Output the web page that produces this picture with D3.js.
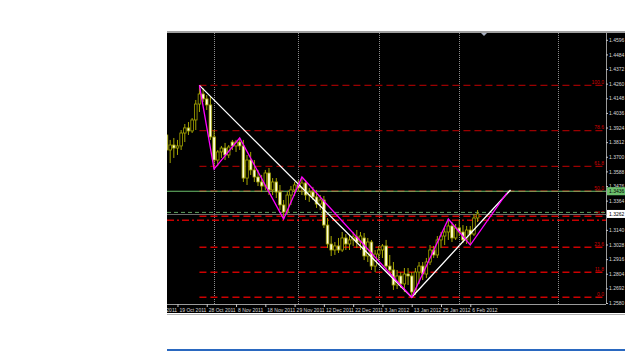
<!DOCTYPE html>
<html>
<head>
    <meta charset="utf-8">
    <title>EURUSD daily - fibonacci</title>
    <script src="https://d3js.org/d3.v7.min.js"></script>
</head>
<style>
    body {
        margin: 0;
        background: #fff;
    }
    text {
        font-family: "Liberation Sans", Arial, sans-serif;
    }
</style>
<body>
    <svg class="chart" width="625" height="351"></svg>

<script>
    //daily bars, index 0 = first visible bar on the left
    var opens = [1.3867, 1.3752, 1.3790, 1.3767, 1.3783, 1.3882, 1.3921, 1.3898, 1.3982, 1.4104,
        1.4181, 1.4143, 1.4097, 1.3852, 1.3675, 1.3737, 1.3767, 1.3714, 1.3813, 1.3783,
        1.3813, 1.3783, 1.3537, 1.3675, 1.3599, 1.3545, 1.3507, 1.3476, 1.3576, 1.3446,
        1.3507, 1.3430, 1.3331, 1.3277, 1.3407, 1.3446, 1.3484, 1.3461, 1.3499, 1.3407,
        1.3430, 1.3392, 1.3338, 1.3369, 1.3177, 1.3032, 1.2986, 1.3017, 1.2986, 1.3078,
        1.3032, 1.3063, 1.3086, 1.3047, 1.3078, 1.2940, 1.3047, 1.2863, 1.2955, 1.2986,
        1.3017, 1.2863, 1.2833, 1.2718, 1.2787, 1.2726, 1.2802, 1.2787, 1.2664, 1.2817,
        1.2863, 1.2802, 1.2894, 1.2986, 1.2948, 1.3063, 1.3093, 1.3124, 1.3170, 1.3078,
        1.3155, 1.3124, 1.3063, 1.3139, 1.3108, 1.3231];
    var highs = [1.3944, 1.3829, 1.3844, 1.3829, 1.3905, 1.3951, 1.3966, 1.3997, 1.4135, 1.4247,
        1.4227, 1.4173, 1.4166, 1.3905, 1.3752, 1.3783, 1.3806, 1.3790, 1.3829, 1.3829,
        1.3844, 1.3829, 1.3714, 1.3737, 1.3675, 1.3599, 1.3561, 1.3599, 1.3614, 1.3537,
        1.3537, 1.3484, 1.3369, 1.3430, 1.3476, 1.3507, 1.3522, 1.3545, 1.3522, 1.3461,
        1.3469, 1.3446, 1.3407, 1.3400, 1.3231, 1.3093, 1.3047, 1.3078, 1.3124, 1.3108,
        1.3101, 1.3124, 1.3139, 1.3124, 1.3116, 1.3078, 1.3063, 1.2986, 1.3017, 1.3032,
        1.3063, 1.2948, 1.2894, 1.2833, 1.2817, 1.2848, 1.2848, 1.2817, 1.2848, 1.2894,
        1.2894, 1.2925, 1.3024, 1.3017, 1.3093, 1.3124, 1.3155, 1.3223, 1.3200, 1.3185,
        1.3216, 1.3177, 1.3170, 1.3170, 1.3262, 1.3292];
    var lows = [1.3737, 1.3652, 1.3691, 1.3714, 1.3752, 1.3813, 1.3867, 1.3882, 1.3905, 1.4043,
        1.4120, 1.4058, 1.3829, 1.3606, 1.3629, 1.3691, 1.3675, 1.3691, 1.3752, 1.3737,
        1.3752, 1.3507, 1.3484, 1.3561, 1.3507, 1.3476, 1.3430, 1.3446, 1.3407, 1.3407,
        1.3384, 1.3292, 1.3223, 1.3262, 1.3331, 1.3400, 1.3430, 1.3407, 1.3369, 1.3354,
        1.3369, 1.3308, 1.3292, 1.3155, 1.3001, 1.2940, 1.2948, 1.2963, 1.2971, 1.2986,
        1.2986, 1.3017, 1.3001, 1.2986, 1.2909, 1.2894, 1.2833, 1.2817, 1.2909, 1.2925,
        1.2833, 1.2787, 1.2680, 1.2687, 1.2695, 1.2664, 1.2718, 1.2624, 1.2641, 1.2726,
        1.2756, 1.2771, 1.2871, 1.2925, 1.2925, 1.3001, 1.3024, 1.3063, 1.3047, 1.3063,
        1.3093, 1.3040, 1.3032, 1.3024, 1.3093, 1.3200];
    var closes = [1.3752, 1.3790, 1.3767, 1.3783, 1.3882, 1.3921, 1.3898, 1.3982, 1.4104, 1.4181,
        1.4143, 1.4097, 1.3852, 1.3675, 1.3737, 1.3767, 1.3714, 1.3775, 1.3783, 1.3813,
        1.3783, 1.3537, 1.3675, 1.3599, 1.3545, 1.3507, 1.3476, 1.3576, 1.3446, 1.3507,
        1.3430, 1.3331, 1.3277, 1.3407, 1.3446, 1.3484, 1.3461, 1.3499, 1.3407, 1.3430,
        1.3392, 1.3338, 1.3369, 1.3177, 1.3032, 1.2986, 1.3017, 1.2986, 1.3078, 1.3032,
        1.3063, 1.3086, 1.3047, 1.3093, 1.2940, 1.3047, 1.2863, 1.2955, 1.2986, 1.3017,
        1.2863, 1.2833, 1.2718, 1.2787, 1.2726, 1.2802, 1.2787, 1.2664, 1.2817, 1.2863,
        1.2802, 1.2894, 1.2986, 1.2948, 1.3063, 1.3093, 1.3124, 1.3170, 1.3078, 1.3155,
        1.3124, 1.3063, 1.3139, 1.3108, 1.3231, 1.3262];

    //time axis labels and the bar they sit on
    var dateLabels = ["10 Oct 2011", "19 Oct 2011", "28 Oct 2011", "8 Nov 2011", "18 Nov 2011", "29 Nov 2011",
        "12 Dec 2011", "22 Dec 2011", "3 Jan 2012", "13 Jan 2012", "25 Jan 2012", "6 Feb 2012"];
    var dateLabelBars = [-5, 3, 11, 19, 27, 35, 43, 51, 59, 67, 75, 83];
    var gridBars = [13, 36, 58, 80, 107];

    //price scale labels
    var priceTicks = [1.2580, 1.2692, 1.2804, 1.2916, 1.3028, 1.3140, 1.3252, 1.3364, 1.3476, 1.3588,
        1.3700, 1.3812, 1.3924, 1.4036, 1.4148, 1.4260, 1.4372, 1.4484, 1.4596];

    //fibonacci retracement
    var fibLevels = [100, 78.6, 61.8, 50, 38.2, 23.6, 11.8, 0];
    var fibHigh = 1.4247;
    var fibLow = 1.2624;
    var fibStartBar = 9;

    //white trend lines and magenta zigzag
    var trendBars = [9, 67, 94];
    var trendPrices = [1.4247, 1.2624, 1.3446];
    var zigzagBars = [9, 13, 20, 32, 37, 67, 77, 83, 93];
    var zigzagPrices = [1.4247, 1.3606, 1.3844, 1.3223, 1.3545, 1.2624, 1.3223, 1.3024, 1.3423];

    //horizontal lines
    var greenLinePrice = 1.3436;
    var greenDashPrice = 1.3274;
    var redDashDotPrice = 1.3214;

    //set up chart
    var plotLeft = 167,
        plotRight = 606,
        plotTop = 33,
        plotBottom = 304;

    var svg = d3.select(".chart");

    var x = d3.scaleLinear()
        .domain([0, 100])
        .range([166.5, 166.5 + 366]);

    var y = d3.scaleLinear()
        .domain([1.2580, 1.4596])
        .range([303, 39.8]);

    var fmt = d3.format(".4f");

    //frame
    svg.append("rect").attr("x", 0).attr("y", 0).attr("width", 625).attr("height", 351).attr("fill", "#fff");
    svg.append("rect").attr("x", plotLeft).attr("y", 31).attr("width", 625 - plotLeft).attr("height", 2).attr("fill", "#a0a0a0");
    svg.append("rect").attr("x", plotLeft).attr("y", plotTop).attr("width", 625 - plotLeft).attr("height", 280).attr("fill", "#000");
    svg.append("rect").attr("x", plotLeft).attr("y", 314).attr("width", 625 - plotLeft).attr("height", 1).attr("fill", "#b0b0b0");
    svg.append("rect").attr("x", plotLeft).attr("y", 349).attr("width", 625 - plotLeft).attr("height", 2).attr("fill", "#2a68c0");

    var defs = svg.append("defs");
    defs.append("clipPath")
        .attr("id", "plot")
        .append("rect")
        .attr("x", plotLeft).attr("y", plotTop)
        .attr("width", plotRight - plotLeft).attr("height", plotBottom - plotTop);

    defs.append("clipPath")
        .attr("id", "xlab")
        .append("rect")
        .attr("x", plotLeft).attr("y", plotBottom)
        .attr("width", plotRight - plotLeft).attr("height", 10);

    var plot = svg.append("g").attr("clip-path", "url(#plot)");

    //vertical grid
    plot.selectAll(".grid")
        .data(gridBars)
        .enter()
        .append("line")
        .attr("class", "grid")
        .attr("x1", function(d) { return Math.round(x(d)) + 0.5; })
        .attr("x2", function(d) { return Math.round(x(d)) + 0.5; })
        .attr("y1", plotTop)
        .attr("y2", plotBottom)
        .attr("stroke", "#8c8c8c")
        .attr("stroke-dasharray", "1,1");

    //fibonacci levels (upper ones drawn darker, like the original)
    var fib = plot.selectAll(".fib")
        .data(fibLevels)
        .enter()
        .append("g")
        .attr("class", "fib");

    fib.append("line")
        .attr("x1", x(fibStartBar))
        .attr("x2", plotRight - 2)
        .attr("y1", function(d) { return y(fibLow + (fibHigh - fibLow) * d / 100); })
        .attr("y2", function(d) { return y(fibLow + (fibHigh - fibLow) * d / 100); })
        .attr("stroke", function(d) { return d > 50 ? "#9a0000" : "#cc0000"; })
        .attr("stroke-width", function(d) { return d > 50 ? 1.2 : 1.5; })
        .attr("stroke-dasharray", "7,4");

    fib.append("text")
        .attr("x", plotRight - 2)
        .attr("y", function(d) { return y(fibLow + (fibHigh - fibLow) * d / 100) - 1.5; })
        .attr("text-anchor", "end")
        .attr("font-size", "5px")
        .attr("fill", "#d00000")
        .text(function(d) { return d.toFixed(1); });

    //other horizontal lines
    plot.append("line")
        .attr("x1", plotLeft).attr("x2", plotRight)
        .attr("y1", y(redDashDotPrice)).attr("y2", y(redDashDotPrice))
        .attr("stroke", "#c80000")
        .attr("stroke-width", 1.3)
        .attr("stroke-dasharray", "7,3,2,3");

    var bidY = Math.round(y(closes[closes.length - 1])) + 0.5;
    plot.append("line")
        .attr("x1", plotLeft).attr("x2", plotRight)
        .attr("y1", bidY).attr("y2", bidY)
        .attr("stroke", "#6a6a6a");

    plot.append("line")
        .attr("x1", plotLeft).attr("x2", plotRight)
        .attr("y1", y(greenDashPrice)).attr("y2", y(greenDashPrice))
        .attr("stroke", "#5fa05f")
        .attr("stroke-dasharray", "4,3");

    plot.append("line")
        .attr("x1", plotLeft).attr("x2", plotRight)
        .attr("y1", y(greenLinePrice)).attr("y2", y(greenLinePrice))
        .attr("stroke", "#6cc06c")
        .attr("stroke-width", 1.2);

    //candles
    var bars = d3.range(opens.length);

    plot.selectAll(".wick")
        .data(bars)
        .enter()
        .append("line")
        .attr("class", "wick")
        .attr("x1", function(i) { return x(i); })
        .attr("x2", function(i) { return x(i); })
        .attr("y1", function(i) { return y(highs[i]); })
        .attr("y2", function(i) { return y(lows[i]); })
        .attr("stroke", "#a6a600");

    plot.selectAll(".body")
        .data(bars)
        .enter()
        .append("rect")
        .attr("class", "body")
        .attr("x", function(i) { return x(i) - 1.3; })
        .attr("width", 2.6)
        .attr("y", function(i) { return y(Math.max(opens[i], closes[i])); })
        .attr("height", function(i) { return Math.max(1, Math.abs(y(opens[i]) - y(closes[i]))); })
        .attr("fill", function(i) {
            if (closes[i] < opens[i]) {
                return "#ffffd8";
            } else {
                return "#000";
            }
        })
        .attr("stroke", "#a6a600")
        .attr("stroke-width", 0.8);

    //white trend lines
    var line = d3.line()
        .x(function(d) { return x(d[0]); })
        .y(function(d) { return y(d[1]); });

    plot.append("path")
        .datum(d3.zip(trendBars, trendPrices))
        .attr("d", line)
        .attr("fill", "none")
        .attr("stroke", "#fff")
        .attr("stroke-width", 1.3);

    //zigzag
    plot.append("path")
        .datum(d3.zip(zigzagBars, zigzagPrices))
        .attr("d", line)
        .attr("fill", "none")
        .attr("stroke", "#ff00ff")
        .attr("stroke-width", 1.3);

    //shift marker
    svg.append("path")
        .attr("d", "M481,33 L487,33 L484,36 Z")
        .attr("fill", "#a8b0c0");

    //price axis
    svg.append("line")
        .attr("x1", plotRight + 0.5).attr("x2", plotRight + 0.5)
        .attr("y1", plotTop).attr("y2", plotBottom)
        .attr("stroke", "#9a9a9a");

    var yAxis = d3.axisRight(y)
        .tickValues(priceTicks)
        .tickSize(2)
        .tickPadding(1)
        .tickFormat(fmt);

    var ya = svg.append("g")
        .attr("class", "y axis")
        .attr("transform", "translate(" + plotRight + ",0)")
        .call(yAxis);
    ya.select(".domain").remove();
    ya.selectAll("line").attr("stroke", "#c8c8c8");
    ya.selectAll("text")
        .attr("fill", "#d8d8d8")
        .attr("font-size", "5px");

    //green line and bid boxes on the price axis
    function priceBox(price, bg) {
        var g = svg.append("g").attr("transform", "translate(" + (plotRight + 1) + "," + y(price) + ")");
        g.append("rect")
            .attr("x", 0).attr("y", -4)
            .attr("width", 18).attr("height", 8)
            .attr("fill", bg);
        g.append("text")
            .attr("x", 2).attr("y", 2)
            .attr("font-size", "5px")
            .attr("fill", "#000")
            .text(fmt(price));
    }
    priceBox(greenLinePrice, "#6cc06c");
    priceBox(closes[closes.length - 1], "#fff");

    //time axis
    svg.append("line")
        .attr("x1", plotLeft).attr("x2", plotRight)
        .attr("y1", plotBottom + 0.5).attr("y2", plotBottom + 0.5)
        .attr("stroke", "#9a9a9a");

    var xAxis = d3.axisBottom(x)
        .tickValues(dateLabelBars)
        .tickSize(3)
        .tickPadding(1)
        .tickFormat(function(d, i) { return dateLabels[i]; });

    var xa = svg.append("g")
        .attr("class", "xAxis")
        .attr("clip-path", "url(#xlab)")
        .append("g")
        .attr("transform", "translate(0," + plotBottom + ")")
        .call(xAxis);
    xa.select(".domain").remove();
    xa.selectAll("line").attr("stroke", "#c8c8c8");
    xa.selectAll("text")
        .style("text-anchor", "start")
        .attr("dx", "1.5")
        .attr("fill", "#d8d8d8")
        .attr("font-size", "5px");
</script>
</body>
</html>
